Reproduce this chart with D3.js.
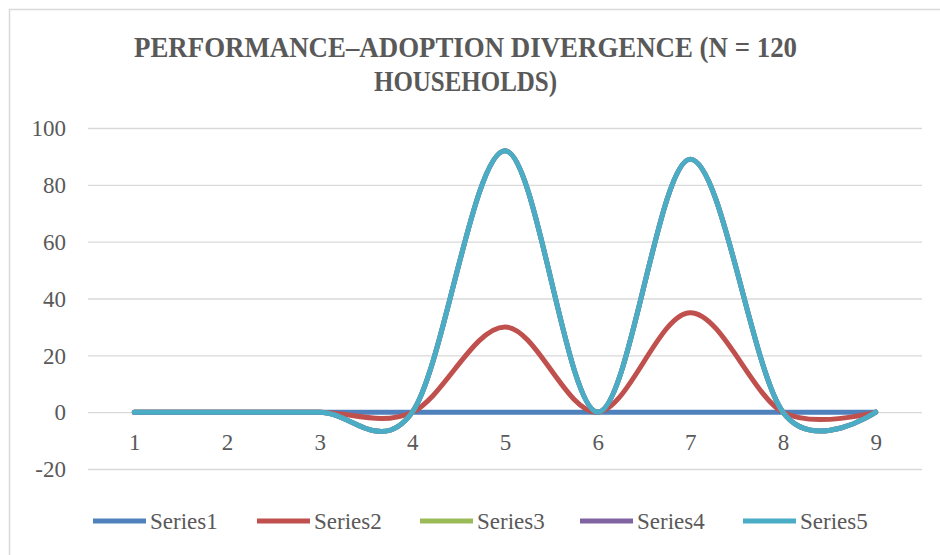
<!DOCTYPE html>
<html>
<head>
<meta charset="utf-8">
<script src="https://cdn.jsdelivr.net/npm/d3@7"></script>
<style>
  html, body { margin: 0; padding: 0; background: #fff; }
  svg { display: block; }
</style>
</head>
<body>
<div id="chart"></div>
<script>
// chart data
let categories = ["1", "2", "3", "4", "5", "6", "7", "8", "9"];
let seriesNames = ["Series1", "Series2", "Series3", "Series4", "Series5"];
let series1 = [0, 0, 0, 0, 0, 0, 0, 0, 0];
let series2 = [0, 0, 0, 0, 30, 0, 35, 0, 0];
let series3 = [0, 0, 0, 0, 92, 0, 89, 0, 0];
let series4 = [0, 0, 0, 0, 92, 0, 89, 0, 0];
let series5 = [0, 0, 0, 0, 92, 0, 89, 0, 0];
let yTicks = [-20, 0, 20, 40, 60, 80, 100];
let titleLines = ["PERFORMANCE\u2013ADOPTION DIVERGENCE (N = 120", "HOUSEHOLDS)"];

let colors = ["#4F81BD", "#C0504D", "#9BBB59", "#8064A2", "#4BACC6"];
let allSeries = [series1, series2, series3, series4, series5];

let width = 940, height = 555;
let plot = {left: 88, right: 922, top: 128, bottom: 469};

let svg = d3.select("#chart").append("svg")
    .attr("width", width)
    .attr("height", height);

svg.append("rect")
    .attr("width", width).attr("height", height)
    .attr("fill", "#fff");

// chart frame (runs off the right and bottom edge)
svg.append("rect")
    .attr("x", 9.5).attr("y", 9.5)
    .attr("width", 960).attr("height", 580)
    .attr("fill", "none")
    .attr("stroke", "#d9d9d9")
    .attr("stroke-width", 1.5);

// title
let titleWidths = [663, 183];
svg.selectAll(".title")
    .data(titleLines)
    .enter()
    .append("text")
    .attr("class", "title")
    .attr("x", 465.5)
    .attr("y", function(d, i){ return 57 + i * 34; })
    .attr("text-anchor", "middle")
    .attr("textLength", function(d, i){ return titleWidths[i]; })
    .attr("lengthAdjust", "spacingAndGlyphs")
    .style("font-family", "'Liberation Serif', serif")
    .style("font-weight", "bold")
    .style("font-size", "30px")
    .style("fill", "#595959")
    .text(function(d){ return d; });

// scales
let x = d3.scalePoint().domain(categories).range([plot.left, plot.right]).padding(0.5);
let y = d3.scaleLinear().domain([-20, 100]).range([plot.bottom, plot.top]);

// gridlines + y labels
let yAxis = d3.axisLeft(y)
    .tickValues(yTicks)
    .tickSize(-(plot.right - plot.left))
    .tickPadding(22)
    .tickFormat(function(d){ return String(d); });

let gy = svg.append("g")
    .attr("transform", "translate(" + plot.left + ",0)")
    .call(yAxis);
gy.select(".domain").remove();
gy.selectAll(".tick line").attr("stroke", "#d9d9d9").attr("stroke-width", 1.3);
gy.selectAll(".tick text")
    .attr("dy", "0.34em")
    .style("font-family", "'Liberation Serif', serif")
    .style("font-size", "23px")
    .style("fill", "#595959");

// x labels, axis crosses at 0
let xAxis = d3.axisBottom(x).tickSize(0).tickPadding(22);
let gx = svg.append("g")
    .attr("transform", "translate(0," + y(0) + ")")
    .call(xAxis);
gx.select(".domain").remove();
gx.selectAll(".tick text")
    .style("font-family", "'Liberation Serif', serif")
    .style("font-size", "23px")
    .style("fill", "#595959");

// smoothed lines
let line = d3.line()
    .x(function(d, i){ return x(categories[i]); })
    .y(function(d){ return y(d); })
    .curve(d3.curveCatmullRom.alpha(0));

svg.selectAll(".series")
    .data(allSeries)
    .enter()
    .append("path")
    .attr("class", "series")
    .attr("d", function(d){ return line(d); })
    .attr("fill", "none")
    .attr("stroke", function(d, i){ return colors[i]; })
    .attr("stroke-width", 5)
    .attr("stroke-linejoin", "round")
    .attr("stroke-linecap", "round");

// legend
let legendX = [93, 257, 420, 580, 743];
let legend = svg.selectAll(".legend")
    .data(seriesNames)
    .enter()
    .append("g")
    .attr("class", "legend")
    .attr("transform", function(d, i){ return "translate(" + legendX[i] + ",521)"; });

legend.append("line")
    .attr("x1", 0).attr("x2", 53)
    .attr("stroke", function(d, i){ return colors[i]; })
    .attr("stroke-width", 5);

legend.append("text")
    .attr("x", 57)
    .attr("y", 8)
    .style("font-family", "'Liberation Serif', serif")
    .style("font-size", "23px")
    .style("fill", "#595959")
    .text(function(d){ return d; });
</script>
</body>
</html>
